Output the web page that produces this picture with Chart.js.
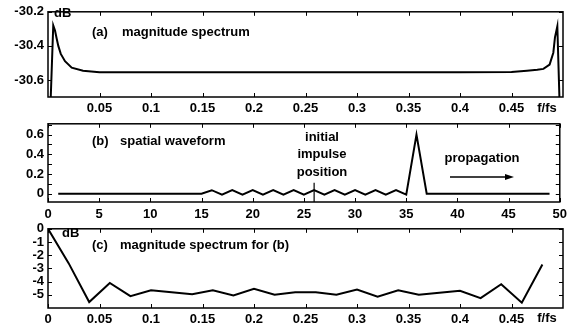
<!DOCTYPE html>
<html>
<head>
<meta charset="utf-8">
<script src="https://cdn.jsdelivr.net/npm/chart.js@4.4.1/dist/chart.umd.min.js"></script>
<style>
  html, body { margin: 0; padding: 0; background: #fff; }
  #wrap { position: relative; width: 572px; height: 334px; overflow: hidden; }
  canvas { position: absolute; left: 0; }
</style>
</head>
<body>
<div id="wrap">
  <canvas id="cvA" width="572" height="118" style="top:0px"></canvas>
  <canvas id="cvB" width="572" height="112" style="top:112px"></canvas>
  <canvas id="cvC" width="572" height="117" style="top:217px"></canvas>
</div>
<script>
// (a) magnitude spectrum
var freqA = [0.0021, 0.0051, 0.0068, 0.0084, 0.0100, 0.0124, 0.0165, 0.0230, 0.0340, 0.0500,
             0.1000, 0.2000, 0.3000, 0.4000, 0.4500, 0.4650, 0.4750, 0.4810, 0.4870, 0.4906,
             0.4922, 0.4945, 0.4970];
var magA  = [-30.80, -30.28, -30.31, -30.357, -30.40, -30.447, -30.49, -30.528, -30.546, -30.555,
             -30.555, -30.555, -30.555, -30.555, -30.553, -30.546, -30.54, -30.535, -30.51, -30.44,
             -30.35, -30.285, -30.80];
var ticksAx = [0.05, 0.1, 0.15, 0.2, 0.25, 0.3, 0.35, 0.4, 0.45];
var ticksAy = [-30.6, -30.4, -30.2];

// (b) spatial waveform
var posB = [1, 2, 3, 4, 5, 6, 7, 8, 9, 10, 11, 12, 13, 14, 15, 16, 17, 18, 19, 20, 21, 22, 23, 24, 25,
            26, 27, 28, 29, 30, 31, 32, 33, 34, 35, 36, 37, 38, 39, 40, 41, 42, 43, 44, 45, 46, 47, 48, 49];
var ampB = [0, 0, 0, 0, 0, 0, 0, 0, 0, 0, 0, 0, 0, 0, 0,
            0.035, -0.01, 0.035, -0.01, 0.035, -0.01, 0.035, -0.01, 0.035, -0.01,
            0.035, -0.01, 0.035, -0.01, 0.035, -0.01, 0.035, -0.01, 0.035, -0.01,
            0.6, 0, 0, 0, 0, 0, 0, 0, 0, 0, 0, 0, 0, 0];
var markX = [26, 26];
var markY = [0.11, -0.12];
var ticksBx = [0, 5, 10, 15, 20, 25, 30, 35, 40, 45, 50];
var ticksBy = [0, 0.1, 0.2, 0.3, 0.4, 0.5, 0.6, 0.7];

// (c) magnitude spectrum for (b)
var freqC = [0, 0.02, 0.04, 0.06, 0.08, 0.10, 0.12, 0.14, 0.16, 0.18, 0.20, 0.22, 0.24,
             0.26, 0.28, 0.30, 0.32, 0.34, 0.36, 0.38, 0.40, 0.42, 0.44, 0.46, 0.48];
var magC  = [0, -2.6, -5.55, -4.1, -5.1, -4.65, -4.8, -4.95, -4.65, -5.05, -4.55, -5.0, -4.8,
             -4.8, -5.0, -4.6, -5.15, -4.65, -5.0, -4.85, -4.7, -5.25, -4.2, -5.6, -2.7];
var ticksCx = [0, 0.05, 0.1, 0.15, 0.2, 0.25, 0.3, 0.35, 0.4, 0.45];
var ticksCy = [-5, -4, -3, -2, -1, 0];

var FONT = "'Liberation Sans', Arial, sans-serif";

function pts(xs, ys) {
  return xs.map(function(v, i) { return { x: v, y: ys[i] }; });
}

// frame with inward ticks on all four sides, plus the text notes
var boxTicks = {
  id: 'boxTicks',
  afterDraw: function(chart, args, opts) {
    var ctx = chart.ctx, a = chart.chartArea;
    var x = chart.scales.x, y = chart.scales.y;
    ctx.save();
    ctx.strokeStyle = '#000';
    ctx.lineWidth = 1;
    ctx.beginPath();
    x.ticks.forEach(function(t) {
      var px = Math.round(x.getPixelForValue(t.value)) + 0.5;
      ctx.moveTo(px, a.bottom); ctx.lineTo(px, a.bottom - 4);
      ctx.moveTo(px, a.top); ctx.lineTo(px, a.top + 4);
    });
    y.ticks.forEach(function(t) {
      var py = Math.round(y.getPixelForValue(t.value)) + 0.5;
      ctx.moveTo(a.left, py); ctx.lineTo(a.left + 4, py);
      ctx.moveTo(a.right, py); ctx.lineTo(a.right - 4, py);
    });
    ctx.stroke();
    ctx.lineWidth = 1.5;
    ctx.strokeRect(a.left, a.top, a.right - a.left, a.bottom - a.top);

    ctx.fillStyle = '#000';
    ctx.font = 'bold 13px ' + FONT;
    ctx.textBaseline = 'middle';
    (opts.notes || []).forEach(function(n) {
      ctx.textAlign = n.align || 'left';
      ctx.fillText(n.text, n.x, n.y);
    });
    if (opts.arrow) {
      var ar = opts.arrow;
      ctx.lineWidth = 1.5;
      ctx.beginPath();
      ctx.moveTo(ar.x0, ar.y); ctx.lineTo(ar.x1 - 6, ar.y);
      ctx.stroke();
      ctx.beginPath();
      ctx.moveTo(ar.x1, ar.y);
      ctx.lineTo(ar.x1 - 9, ar.y - 3);
      ctx.lineTo(ar.x1 - 9, ar.y + 3);
      ctx.closePath();
      ctx.fill();
    }
    ctx.restore();
  }
};

function makeChart(id, cfg) {
  var tickFont = { family: FONT, size: 13, weight: 'bold' };
  return new Chart(document.getElementById(id), {
    type: 'scatter',
    data: { datasets: cfg.datasets },
    plugins: [boxTicks],
    options: {
      responsive: false,
      animation: false,
      devicePixelRatio: 1,
      layout: { padding: { top: cfg.top, right: 9, left: 0, bottom: 0 } },
      plugins: {
        legend: { display: false },
        tooltip: { enabled: false },
        boxTicks: { notes: cfg.notes, arrow: cfg.arrow }
      },
      scales: {
        x: {
          type: 'linear', min: cfg.xMin, max: cfg.xMax,
          grid: { display: false, drawTicks: false }, border: { display: false },
          afterBuildTicks: function(s) { s.ticks = cfg.xTicks.map(function(v) { return { value: v }; }); },
          afterFit: function(s) { s.height = cfg.xh; },
          ticks: {
            color: '#000', font: tickFont, padding: cfg.xPad, maxRotation: 0, autoSkip: false,
            callback: function(v) { return cfg.xLabel ? cfg.xLabel(v) : String(v); }
          }
        },
        y: {
          type: 'linear', min: cfg.yMin, max: cfg.yMax,
          grid: { display: false, drawTicks: false }, border: { display: false },
          afterBuildTicks: function(s) { s.ticks = cfg.yTicks.map(function(v) { return { value: v }; }); },
          afterFit: function(s) { s.width = 48; },
          ticks: {
            color: '#000', font: tickFont, padding: 4, autoSkip: false,
            callback: function(v) { return cfg.yLabel ? cfg.yLabel(v) : String(v); }
          }
        }
      }
    }
  });
}

var lineStyle = { showLine: true, borderColor: '#000', borderWidth: 2, pointRadius: 0, tension: 0, fill: false };

makeChart('cvA', {
  top: 5, xh: 21, xPad: 4,
  xMin: 0, xMax: 0.5, yMin: -30.7, yMax: -30.2,
  xTicks: ticksAx, yTicks: ticksAy,
  datasets: [Object.assign({ data: pts(freqA, magA) }, lineStyle)],
  notes: [
    { text: 'dB', x: 54, y: 13 },
    { text: '(a)', x: 92, y: 32 },
    { text: 'magnitude spectrum', x: 122, y: 32 },
    { text: 'f/fs', x: 547, y: 108, align: 'center' }
  ]
});

makeChart('cvB', {
  top: 6, xh: 22, xPad: 5,
  xMin: 0, xMax: 50, yMin: -0.085, yMax: 0.71,
  xTicks: ticksBx, yTicks: ticksBy,
  yLabel: function(v) { return [0, 0.2, 0.4, 0.6].indexOf(Math.round(v * 10) / 10) >= 0 ? String(Math.round(v * 10) / 10) : ''; },
  datasets: [
    Object.assign({ data: pts(posB, ampB) }, lineStyle),
    Object.assign({ data: pts(markX, markY) }, lineStyle, { borderWidth: 1.2 })
  ],
  notes: [
    { text: '(b)', x: 92, y: 29 },
    { text: 'spatial waveform', x: 120, y: 29 },
    { text: 'initial', x: 322, y: 25, align: 'center' },
    { text: 'impulse', x: 322, y: 42, align: 'center' },
    { text: 'position', x: 322, y: 60, align: 'center' },
    { text: 'propagation', x: 482, y: 46, align: 'center' }
  ],
  arrow: { x0: 450, x1: 514, y: 65 }
});

makeChart('cvC', {
  top: 6, xh: 26, xPad: 4,
  xMin: 0, xMax: 0.5, yMin: -6, yMax: 0,
  xTicks: ticksCx, yTicks: ticksCy,
  datasets: [Object.assign({ data: pts(freqC, magC) }, lineStyle)],
  notes: [
    { text: 'dB', x: 62, y: 16 },
    { text: '(c)', x: 92, y: 28 },
    { text: 'magnitude spectrum for (b)', x: 120, y: 28 },
    { text: 'f/fs', x: 547, y: 101, align: 'center' }
  ]
});
</script>
</body>
</html>
